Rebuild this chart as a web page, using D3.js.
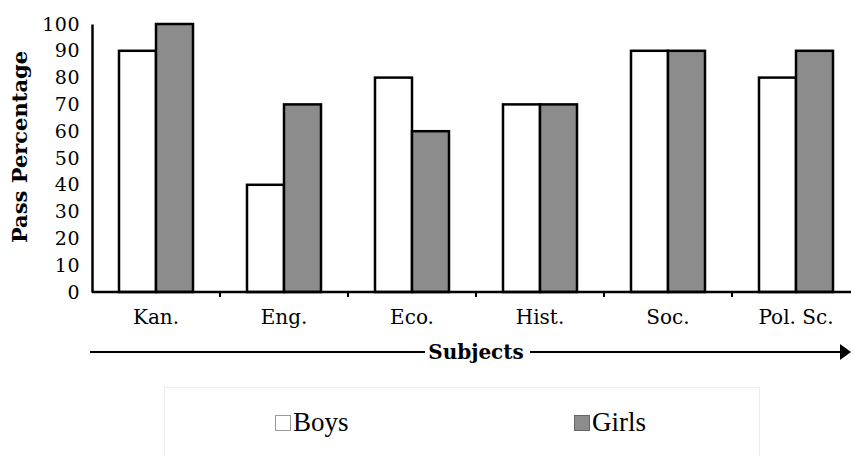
<!DOCTYPE html>
<html>
<head>
<meta charset="utf-8">
<script src="https://cdn.jsdelivr.net/npm/d3@7"></script>
<style>
  body { margin: 0; background: #fff; }
  svg { display: block; }
</style>
</head>
<body>
<svg id="chart"></svg>
<script>
// data
const subjects = ['Kan.', 'Eng.', 'Eco.', 'Hist.', 'Soc.', 'Pol. Sc.'];
const boys = [90, 40, 80, 70, 90, 80];
const girls = [100, 70, 60, 70, 90, 90];
const seriesNames = ['Boys', 'Girls'];
const yTicks = [0, 10, 20, 30, 40, 50, 60, 70, 80, 90, 100];

const width = 851, height = 456;
const margin = { top: 24, left: 92, bottom: 164 };
const plotBottom = height - margin.bottom; // 292
const colors = { Boys: '#ffffff', Girls: '#8c8c8c' };
const serif = '"DejaVu Serif", serif';
const times = '"Liberation Serif", "Times New Roman", serif';

const svg = d3.select('#chart').attr('width', width).attr('height', height);

const x = d3.scaleBand().domain(subjects).range([margin.left, margin.left + 128 * 6]).padding(0);
const xInner = d3.scaleBand().domain(seriesNames).range([0, x.bandwidth()]).paddingOuter(0.73).paddingInner(0);
const y = d3.scaleLinear().domain([0, 100]).range([plotBottom, margin.top]);

const rows = subjects.map((s, i) => ({ subject: s, Boys: boys[i], Girls: girls[i] }));

// bars
const groups = svg.append('g').selectAll('g')
  .data(rows).enter().append('g')
  .attr('transform', d => `translate(${x(d.subject)},0)`);

groups.selectAll('rect')
  .data(d => seriesNames.map(k => ({ key: k, value: d[k] })))
  .enter().append('rect')
  .attr('x', d => xInner(d.key))
  .attr('y', d => y(d.value))
  .attr('width', xInner.bandwidth())
  .attr('height', d => plotBottom - y(d.value))
  .attr('fill', d => colors[d.key])
  .attr('stroke', '#000')
  .attr('stroke-width', 2.5);

// y axis
const yAxis = svg.append('g')
  .attr('transform', `translate(${margin.left},0)`)
  .call(d3.axisLeft(y).tickValues(yTicks).tickSize(0).tickPadding(12));
yAxis.select('.domain').attr('stroke', '#000').attr('stroke-width', 2.5);
yAxis.selectAll('text')
  .style('font-family', serif).style('font-size', '19px').attr('fill', '#000')
  .attr('letter-spacing', '0.5px');

// x axis
const xAxis = svg.append('g')
  .attr('transform', `translate(0,${plotBottom})`)
  .call(d3.axisBottom(x).tickSize(0).tickPadding(18));
xAxis.select('.domain').attr('d', `M${margin.left},0H${width}`).attr('stroke', '#000').attr('stroke-width', 2.5);
xAxis.selectAll('text')
  .style('font-family', serif).style('font-size', '20px').attr('fill', '#000');

// tick marks at band boundaries
svg.append('g').selectAll('line')
  .data(subjects)
  .enter().append('line')
  .attr('x1', d => x(d) + x.step())
  .attr('x2', d => x(d) + x.step())
  .attr('y1', plotBottom).attr('y2', plotBottom + 5)
  .attr('stroke', '#000').attr('stroke-width', 2);

// y title
svg.append('text')
  .attr('transform', `translate(27,147) rotate(-90)`)
  .attr('text-anchor', 'middle')
  .style('font-family', serif).style('font-size', '21px').style('font-weight', 'bold')
  .text('Pass Percentage');

// x title with arrow
const midX = 476, arrowY = 352;
svg.append('text')
  .attr('x', midX).attr('y', arrowY + 7)
  .attr('text-anchor', 'middle')
  .style('font-family', serif).style('font-size', '20px').style('font-weight', 'bold')
  .text('Subjects');
svg.append('line').attr('x1', 90).attr('x2', 425).attr('y1', arrowY).attr('y2', arrowY)
  .attr('stroke', '#000').attr('stroke-width', 2);
svg.append('line').attr('x1', 530).attr('x2', 842).attr('y1', arrowY).attr('y2', arrowY)
  .attr('stroke', '#000').attr('stroke-width', 2);
svg.append('path').attr('d', `M840,${arrowY - 8}L851,${arrowY}L840,${arrowY + 8}Z`).attr('fill', '#000');

// legend
svg.append('rect')
  .attr('x', 164.5).attr('y', 387.5).attr('width', 595).attr('height', 80)
  .attr('fill', '#fff').attr('stroke', '#ececec');

const legendX = { Boys: 275, Girls: 574 };
const legend = svg.append('g').selectAll('g')
  .data(seriesNames).enter().append('g')
  .attr('transform', d => `translate(${legendX[d]},415)`);
legend.append('rect')
  .attr('x', 0.5).attr('y', 0.5).attr('width', 15).attr('height', 15)
  .attr('fill', d => colors[d])
  .attr('stroke', d => d === 'Boys' ? '#999' : '#666');
legend.append('text')
  .attr('x', 18).attr('y', 16)
  .style('font-family', times).style('font-size', '27px')
  .text(d => d);
</script>
</body>
</html>
